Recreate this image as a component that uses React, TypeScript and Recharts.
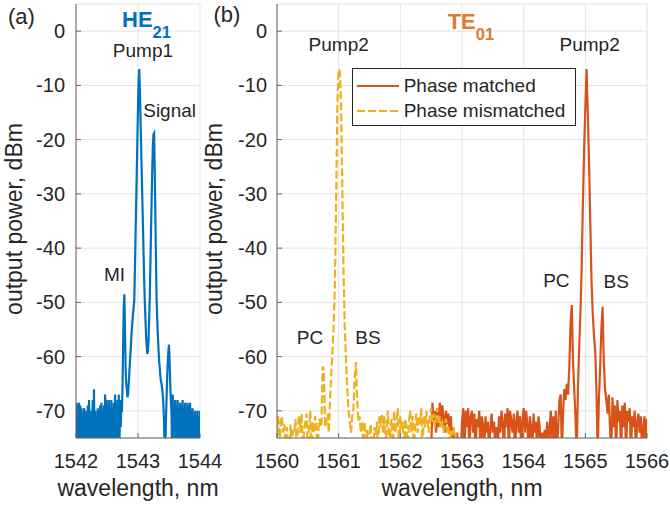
import React from 'react';
import { LineChart, Line, XAxis, YAxis, CartesianGrid, ReferenceDot, Legend } from 'recharts';

const FONT = '"Liberation Sans", Arial, Helvetica, sans-serif';
const TEXT = '#262626';
const AXIS = '#666666';
const GRID = '#e3e3e3';
const BLUE = '#0072BD';
const RED = '#D95319';
const YELLOW = '#EDB120';
const TE_TITLE = '#E07B2A';

// ---- axes ----
const yDomain = [-75, 5];
const yTicks = [-70, -60, -50, -40, -30, -20, -10, 0];
const heTicks = [1542, 1543, 1544];
const teTicks = [1560, 1561, 1562, 1563, 1564, 1565, 1566];

// ---- HE21 spectrum (OSA samples every 0.01 nm from 1542.00 nm); dips fall below the -75 dBm floor ----
const HE_START = 1542.0;
const HE_STEP = 0.01;
const hePower = [
  -78, -68.5, -78, -69, -73, -68.5, -78, -69, -74, -69.5,
  -78, -71, -78, -69.5, -72, -70, -78, -71.5, -74, -69,
  -78, -68, -73, -70, -78, -71, -74, -68, -78, -66,
  -78, -70, -74, -71, -78, -69.5, -73, -70, -78, -69,
  -72, -68.5, -78, -70.5, -74, -69, -78, -67, -73, -68,
  -78, -70, -72, -68, -78, -69.5, -74, -68, -78, -70,
  -72.5, -68.5, -78, -67, -73, -69.5, -78, -68, -74, -67,
  -78, -68, -73, -70,
  -70, -66, -58, -51, -48.5, -55, -62, -65, -66, -67.5,
  -67, -65, -63, -61, -59, -57, -55, -53.5, -52, -51,
  -49.5, -44, -38, -32, -26, -20, -14, -9, -7, -11,
  -16, -21, -26, -31, -36, -41, -46, -50, -53, -56,
  -58, -59.5, -59, -57, -53, -49, -43, -37, -31, -25.5,
  -21, -19, -18.8, -26, -34, -42, -49.5, -53, -56, -58.5,
  -60.5, -62, -63.5, -64.5, -65, -66, -67, -69, -72, -78,
  -78, -72, -68, -64, -61, -59, -57.8, -61, -65, -68,
  -70,
  -78, -67, -78, -70, -73, -68, -78, -69, -74, -68,
  -78, -70, -72, -68.5, -78, -69, -74, -68, -78, -70.5,
  -73, -68.5, -78, -70, -72, -68.5, -78, -69, -74, -68.5,
  -78, -70, -73, -69.5, -78, -71, -74, -70, -78, -71.5,
  -73, -70, -78, -71, -78, -70,
];

// ---- TE01 spectra (OSA samples every 0.02 nm) ----
const TE_STEP = 0.02;
const TE_MISMATCH_START = 1560.0;
const teMismatchPower = [
  -73, -71, -78, -72, -71, -74, -72.5, -78, -73, -78,
  -78, -72.5, -78, -73.5, -74, -71.5, -78, -73, -71, -74,
  -70.5, -78, -73.5, -72, -70.5, -78, -73, -70, -78, -72,
  -74, -71, -73.5, -78, -71.5, -72, -73, -61.8, -62.5, -73,
  -72, -70.5, -74, -68, -63, -59, -54, -46, -30, -13,
  -7, -7.5, -14, -30, -45, -55, -61, -66, -70, -72,
  -74, -71, -69.5, -64, -61, -68, -72, -71, -74, -72,
  -78, -72, -78, -73.5, -78, -74, -72.5, -78, -78, -73,
  -74.5, -72, -78, -71, -73, -70.5, -74, -71, -78, -72,
  -70, -78, -73, -71.5, -78, -70, -74, -72, -69.5, -78,
  -71, -73.5, -72, -78, -71.5, -73, -78, -72, -70, -74,
  -71, -78, -73, -70.5, -74, -71, -72.5, -69.5, -78, -71,
  -73, -70, -72, -74, -71, -69.5, -72, -70.5, -73, -71,
  -69.5, -72.5, -71, -73, -72, -74, -72.5, -71.5, -74, -73,
  -78, -73.5, -74.5, -73, -78, -74,
];
const TE_MATCH_START = 1562.5;
const teMatchPower = [
  -78, -68.5, -72, -70, -74, -69.5, -73, -68.5, -72, -69,
  -71, -74, -70, -72.5, -70.5, -74, -71, -78, -73, -78,
  -78, -74, -78, -78, -78, -72, -69.5, -78, -70, -73,
  -69.5, -78, -71, -70, -74, -70.5, -78, -71.5, -73, -70,
  -78, -71, -72.5, -78, -71, -74, -72, -78, -73, -70.5,
  -74, -72, -78, -73, -78, -71, -74, -70, -72, -78,
  -70.5, -73, -69.5, -78, -70, -72, -74, -70.5, -78, -72,
  -70, -74, -71, -78, -72, -69.5, -74, -70, -72.5, -78,
  -71, -73, -78, -70.5, -74, -72, -78, -71, -73, -78,
  -74, -78, -73.5, -78, -72, -78, -73, -70, -78, -71,
  -78, -70, -78, -73, -68, -67, -78, -70, -66, -68,
  -65, -67, -62, -54, -50.5, -61, -66, -71, -78, -66,
  -58.5, -52, -44, -32, -22, -14, -7, -15, -24, -35,
  -46, -52, -56, -59, -66, -78, -68, -62, -55, -50.8,
  -61, -66, -68, -70.5, -67, -73, -78, -67.5, -73, -69,
  -78, -68, -72, -70, -78, -69, -73, -68.5, -78, -70,
  -72, -69.5, -78, -71, -73, -70, -78, -72, -70.5, -74,
  -71, -78, -73, -71, -78, -71.5,
];

// ---- annotations (data coordinates) ----
const heNotes = [
  { text: 'Pump1', x: 1543.08, y: -4.75 },
  { text: 'Signal', x: 1543.51, y: -15.8 },
  { text: 'MI', x: 1542.62, y: -46.1 },
];
const teNotes = [
  { text: 'Pump2', x: 1561.0, y: -3.67 },
  { text: 'Pump2', x: 1565.07, y: -3.67 },
  { text: 'PC', x: 1560.535, y: -57.7 },
  { text: 'BS', x: 1561.475, y: -57.7 },
  { text: 'PC', x: 1564.53, y: -47.1 },
  { text: 'BS', x: 1565.5, y: -47.3 },
];
const heTitle = { main: 'HE', sub: '21', x: 1543.137, y: 0.81, dy: 11.5 };
const teTitle = { main: 'TE', sub: '01', x: 1563.144, y: 0.33, dy: 10.5 };

const toSeries = (start: number, step: number, ys: number[]) =>
  ys.map((y, i) => ({ x: Number((start + i * step).toFixed(2)), y }));

const heData = toSeries(HE_START, HE_STEP, hePower);
const teMismatchData = toSeries(TE_MISMATCH_START, TE_STEP, teMismatchPower);
const teMatchData = toSeries(TE_MATCH_START, TE_STEP, teMatchPower);

const noteShape = (text: string) => (p: any) => (
  <text x={p.cx} y={p.cy} textAnchor="middle" fontSize={19} fill={TEXT} fontFamily={FONT}>
    {text}
  </text>
);

const titleShape = (t: { main: string; sub: string; dy: number }, color: string) => (p: any) => (
  <text x={p.cx} y={p.cy} textAnchor="middle" fill={color} fontFamily={FONT} fontWeight="bold">
    <tspan fontSize={22}>{t.main}</tspan>
    <tspan fontSize={16.5} dy={t.dy}>{t.sub}</tspan>
  </text>
);

const YLabel = (props: any) => {
  const vb = props.viewBox || { x: 0, y: 4, width: 76, height: 434 };
  const cx = vb.x + 22;
  const cy = vb.y + vb.height / 2 - 2;
  return (
    <text
      x={cx}
      y={cy}
      transform={`rotate(-90 ${cx} ${cy})`}
      textAnchor="middle"
      fontSize={23}
      fill={TEXT}
      fontFamily={FONT}
    >
      output power, dBm
    </text>
  );
};

const legendDash: Record<string, string | undefined> = {
  'Phase matched': undefined,
  'Phase mismatched': '8 3',
};
const legendOrder = ['Phase matched', 'Phase mismatched'];

const renderLegend = (props: any) => {
  const payload = [...(props.payload || [])].sort(
    (a: any, b: any) => legendOrder.indexOf(a.value) - legendOrder.indexOf(b.value)
  );
  return (
    <div
      style={{
        width: 224,
        height: 58,
        boxSizing: 'border-box',
        border: '1px solid #262626',
        background: '#ffffff',
        paddingTop: 4,
        paddingLeft: 4,
        fontFamily: FONT,
        fontSize: 19,
        color: TEXT,
      }}
    >
      {payload.map((entry: any) => (
        <div key={entry.value} style={{ display: 'flex', alignItems: 'center', height: 25 }}>
          <svg width={42} height={6} style={{ display: 'block' }}>
            <line
              x1={0}
              y1={3}
              x2={42}
              y2={3}
              stroke={entry.color}
              strokeWidth={2}
              strokeDasharray={legendDash[entry.value]}
            />
          </svg>
          <span style={{ marginLeft: 5, lineHeight: '25px', whiteSpace: 'nowrap' }}>{entry.value}</span>
        </div>
      ))}
    </div>
  );
};

const axisTick = { fill: TEXT, fontSize: 20 };

export default function App() {
  return (
    <div
      style={{
        position: 'absolute',
        left: 0,
        top: 0,
        width: 670,
        height: 509,
        background: '#ffffff',
        fontFamily: FONT,
        overflow: 'hidden',
      }}
    >
      {/* panel (a) */}
      <div style={{ position: 'absolute', left: 0, top: 0 }}>
        <LineChart width={230} height={509} margin={{ top: 4, right: 30, left: 0, bottom: 0 }}>
          <CartesianGrid stroke={GRID} />
          <XAxis
            type="number"
            dataKey="x"
            domain={[1542, 1544]}
            ticks={heTicks}
            interval={0}
            allowDataOverflow
            height={71}
            tick={axisTick}
            tickSize={-5}
            tickMargin={21}
            axisLine={{ stroke: AXIS }}
            tickLine={{ stroke: AXIS }}
            label={{ value: 'wavelength, nm', position: 'insideBottom', offset: 13, fill: TEXT, fontSize: 23 }}
          />
          <YAxis
            type="number"
            domain={yDomain}
            ticks={yTicks}
            interval={0}
            allowDataOverflow
            width={76}
            tick={axisTick}
            tickSize={-5}
            tickMargin={16}
            axisLine={{ stroke: AXIS }}
            tickLine={{ stroke: AXIS }}
            label={<YLabel />}
          />
          <Line
            data={heData}
            dataKey="y"
            type="linear"
            stroke={BLUE}
            strokeWidth={2.2}
            dot={false}
            activeDot={false}
            isAnimationActive={false}
            name="HE21"
          />
          {heNotes.map((n, i) => (
            <ReferenceDot key={i} x={n.x} y={n.y} r={0} ifOverflow="visible" shape={noteShape(n.text)} />
          ))}
          <ReferenceDot x={heTitle.x} y={heTitle.y} r={0} ifOverflow="visible" shape={titleShape(heTitle, BLUE)} />
        </LineChart>
      </div>

      {/* panel (b) */}
      <div style={{ position: 'absolute', left: 200, top: 0 }}>
        <LineChart width={470} height={509} margin={{ top: 4, right: 23, left: 0, bottom: 0 }}>
          <CartesianGrid stroke={GRID} />
          <XAxis
            type="number"
            dataKey="x"
            domain={[1560, 1566]}
            ticks={teTicks}
            interval={0}
            allowDataOverflow
            height={71}
            tick={axisTick}
            tickSize={-5}
            tickMargin={21}
            axisLine={{ stroke: AXIS }}
            tickLine={{ stroke: AXIS }}
            label={{ value: 'wavelength, nm', position: 'insideBottom', offset: 13, fill: TEXT, fontSize: 23 }}
          />
          <YAxis
            type="number"
            domain={yDomain}
            ticks={yTicks}
            interval={0}
            allowDataOverflow
            width={77}
            tick={axisTick}
            tickSize={-5}
            tickMargin={15}
            axisLine={{ stroke: AXIS }}
            tickLine={{ stroke: AXIS }}
            label={<YLabel />}
          />
          <Line
            data={teMatchData}
            dataKey="y"
            type="linear"
            stroke={RED}
            strokeWidth={2.2}
            dot={false}
            activeDot={false}
            isAnimationActive={false}
            name="Phase matched"
          />
          <Line
            data={teMismatchData}
            dataKey="y"
            type="linear"
            stroke={YELLOW}
            strokeWidth={2.2}
            strokeDasharray="8 3"
            dot={false}
            activeDot={false}
            isAnimationActive={false}
            name="Phase mismatched"
          />
          {teNotes.map((n, i) => (
            <ReferenceDot key={i} x={n.x} y={n.y} r={0} ifOverflow="visible" shape={noteShape(n.text)} />
          ))}
          <ReferenceDot x={teTitle.x} y={teTitle.y} r={0} ifOverflow="visible" shape={titleShape(teTitle, TE_TITLE)} />
          <Legend
            layout="vertical"
            align="center"
            verticalAlign="middle"
            wrapperStyle={{ left: 151.7, top: 68, width: 224, height: 58 }}
            content={renderLegend}
          />
        </LineChart>
      </div>

      {/* panel letters */}
      <svg width={670} height={509} style={{ position: 'absolute', left: 0, top: 0, pointerEvents: 'none' }}>
        <text x={8} y={24} fontSize={22} fill={TEXT} fontFamily={FONT}>(a)</text>
        <text x={213.5} y={22} fontSize={22} fill={TEXT} fontFamily={FONT}>(b)</text>
      </svg>
    </div>
  );
}
